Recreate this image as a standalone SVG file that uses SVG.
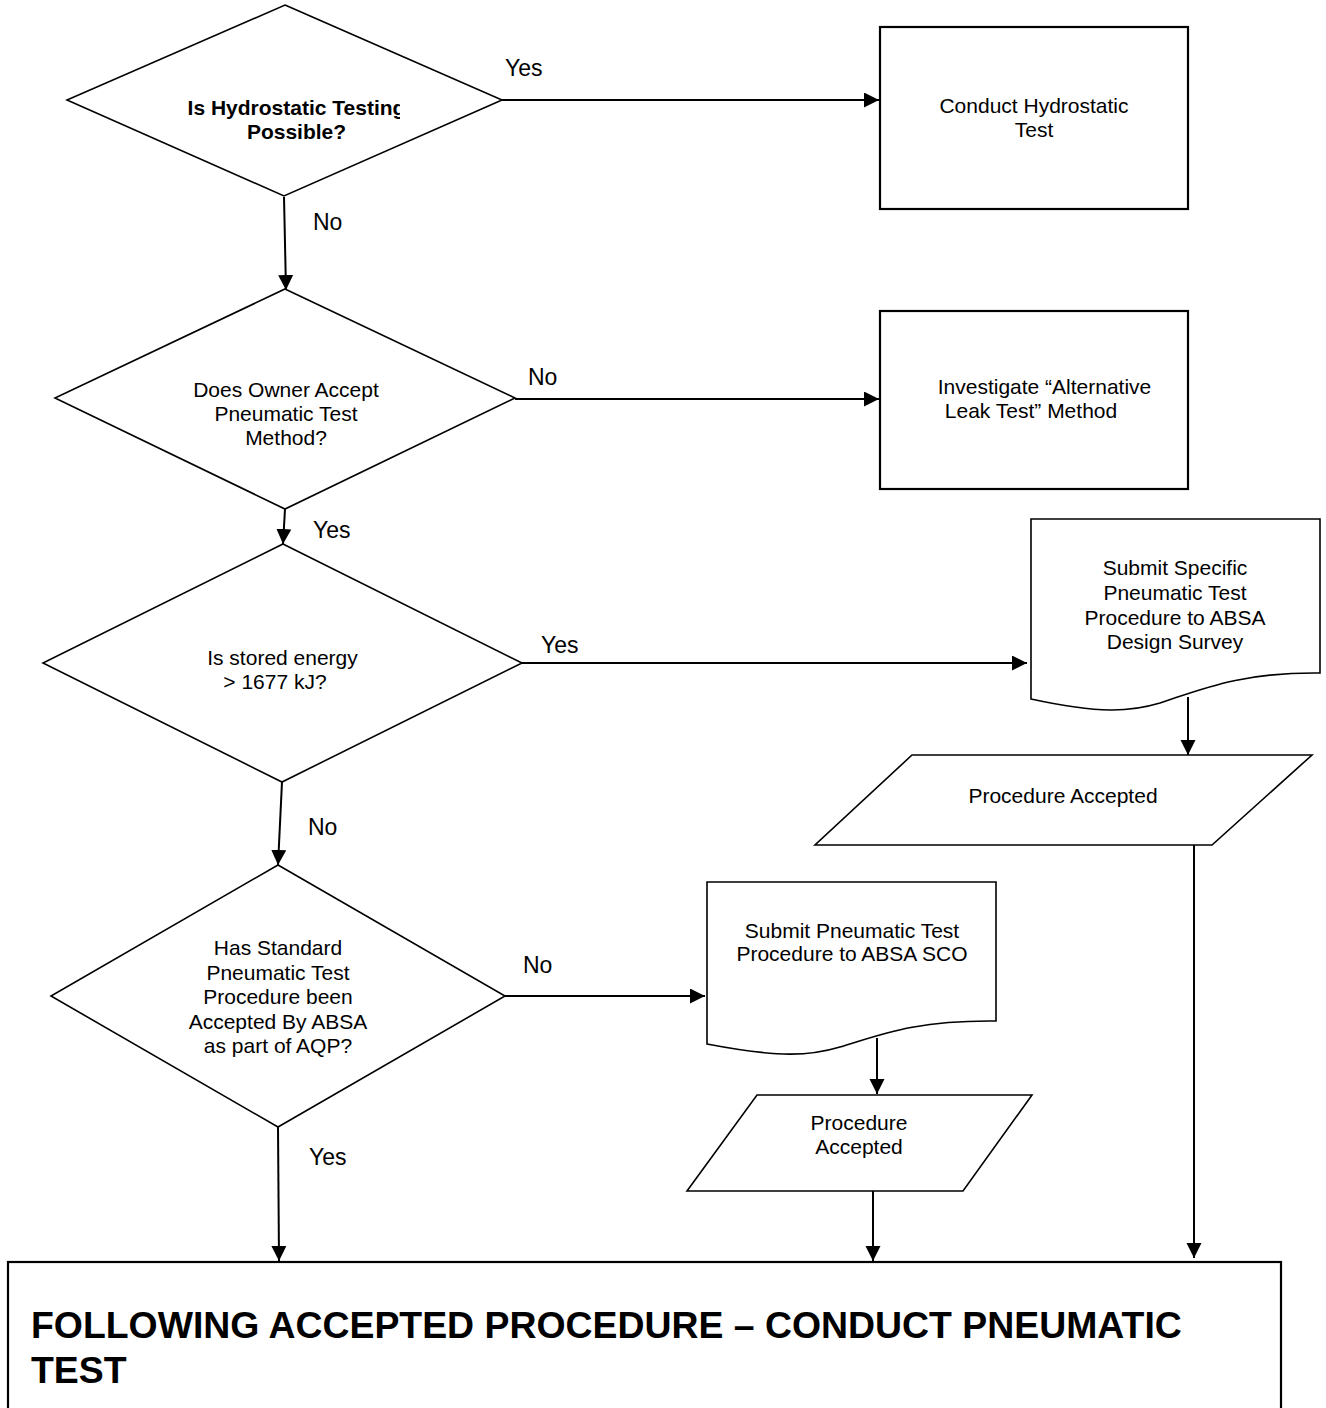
<svg xmlns="http://www.w3.org/2000/svg" width="1326" height="1408" viewBox="0 0 1326 1408">
<style>
  .shape { fill: #ffffff; stroke: #000000; stroke-width: 1.6; }
  .box { fill: #ffffff; stroke: #000000; stroke-width: 2.2; }
  .conn { fill: none; stroke: #000000; stroke-width: 2; }
  .t { font-family: "Liberation Sans", Arial, sans-serif; font-size: 21px; fill: #000000; text-anchor: middle; }
  .tb { font-family: "Liberation Sans", Arial, sans-serif; font-size: 21px; font-weight: bold; fill: #000000; text-anchor: middle; }
  .lbl { font-family: "Liberation Sans", Arial, sans-serif; font-size: 23px; fill: #000000; }
  .big { font-family: "Liberation Sans", Arial, sans-serif; font-size: 37.4px; font-weight: bold; fill: #000000; }
</style>
<defs>
  <marker id="arr" markerUnits="userSpaceOnUse" markerWidth="16" markerHeight="16" refX="15" refY="7.5" orient="auto">
    <path d="M0,0 L15,7.5 L0,15 z" fill="#000000"/>
  </marker>
  <clipPath id="clip1"><rect x="60" y="0" width="340" height="200"/></clipPath>
</defs>
<rect width="1326" height="1408" fill="#ffffff"/>

<g id="connectors">
  <line class="conn" x1="502" y1="100" x2="879" y2="100" marker-end="url(#arr)"/>
  <line class="conn" x1="284" y1="197" x2="286" y2="290" marker-end="url(#arr)"/>
  <line class="conn" x1="515" y1="399" x2="879" y2="399" marker-end="url(#arr)"/>
  <line class="conn" x1="285" y1="509" x2="283" y2="544" marker-end="url(#arr)"/>
  <line class="conn" x1="522" y1="663" x2="1027" y2="663" marker-end="url(#arr)"/>
  <line class="conn" x1="282" y1="782" x2="278" y2="865" marker-end="url(#arr)"/>
  <line class="conn" x1="1188" y1="697" x2="1188" y2="755" marker-end="url(#arr)"/>
  <line class="conn" x1="505" y1="996" x2="705" y2="996" marker-end="url(#arr)"/>
  <line class="conn" x1="877" y1="1038" x2="877" y2="1094" marker-end="url(#arr)"/>
  <line class="conn" x1="278" y1="1127" x2="279" y2="1261" marker-end="url(#arr)"/>
  <line class="conn" x1="873" y1="1191" x2="873" y2="1261" marker-end="url(#arr)"/>
  <line class="conn" x1="1194" y1="845" x2="1194" y2="1258" marker-end="url(#arr)"/>
  <text class="lbl" x="505" y="76">Yes</text>
  <text class="lbl" x="313" y="230">No</text>
  <text class="lbl" x="528" y="385">No</text>
  <text class="lbl" x="313" y="538">Yes</text>
  <text class="lbl" x="541" y="653">Yes</text>
  <text class="lbl" x="308" y="835">No</text>
  <text class="lbl" x="523" y="973">No</text>
  <text class="lbl" x="309" y="1165">Yes</text>
</g>

<g id="d1">
  <polygon class="shape" points="285,5 502,100 284,196 67,100"/>
  <g clip-path="url(#clip1)">
    <text class="tb" x="296.5" y="115">Is Hydrostatic Testing</text>
  </g>
  <text class="tb" x="296.5" y="139">Possible?</text>
</g>

<g id="b1">
  <rect class="box" x="880" y="27" width="308" height="182"/>
  <text class="t" x="1034" y="113">Conduct Hydrostatic</text>
  <text class="t" x="1034" y="137">Test</text>
</g>

<g id="d2">
  <polygon class="shape" points="285,289 515,398 285,509 55,398"/>
  <text class="t" x="286" y="397">Does Owner Accept</text>
  <text class="t" x="286" y="421">Pneumatic Test</text>
  <text class="t" x="286" y="445">Method?</text>
</g>

<g id="b2">
  <rect class="box" x="880" y="311" width="308" height="178"/>
  <text class="t" x="1044.5" y="394">Investigate “Alternative</text>
  <text class="t" x="1031" y="418">Leak Test” Method</text>
</g>

<g id="d3">
  <polygon class="shape" points="283,544 522,663 282,782 43,663"/>
  <text class="t" x="282.5" y="665">Is stored energy</text>
  <text class="t" x="275" y="689">&gt; 1677 kJ?</text>
</g>

<g id="doc1">
  <path class="shape" d="M1031,519 H1320 V673 C1240,672 1200,690 1160,703 C1130,712 1100,714 1031,699 Z"/>
  <text class="t" x="1175" y="575">Submit Specific</text>
  <text class="t" x="1175" y="600">Pneumatic Test</text>
  <text class="t" x="1175" y="625">Procedure to ABSA</text>
  <text class="t" x="1175" y="649">Design Survey</text>
</g>

<g id="p1">
  <polygon class="shape" points="912,755 1312,755 1212,845 815,845"/>
  <text class="t" x="1063" y="803">Procedure Accepted</text>
</g>

<g id="d4">
  <polygon class="shape" points="278,865 505,996 278,1127 51,996"/>
  <text class="t" x="278" y="955">Has Standard</text>
  <text class="t" x="278" y="980">Pneumatic Test</text>
  <text class="t" x="278" y="1004">Procedure been</text>
  <text class="t" x="278" y="1029">Accepted By ABSA</text>
  <text class="t" x="278" y="1053">as part of AQP?</text>
</g>

<g id="doc2">
  <path class="shape" d="M707,882 H996 V1021 C915,1020 880,1035 840,1047 C810,1056 780,1058 707,1044 Z"/>
  <text class="t" x="852" y="938">Submit Pneumatic Test</text>
  <text class="t" x="852" y="961">Procedure to ABSA SCO</text>
</g>

<g id="p2">
  <polygon class="shape" points="757,1095 1032,1095 963,1191 687,1191"/>
  <text class="t" x="859" y="1130">Procedure</text>
  <text class="t" x="859" y="1154">Accepted</text>
</g>

<g id="final">
  <rect class="box" x="8" y="1262" width="1273" height="160"/>
  <text class="big" x="31" y="1338">FOLLOWING ACCEPTED PROCEDURE – CONDUCT PNEUMATIC</text>
  <text class="big" x="31" y="1383">TEST</text>
</g>
</svg>
